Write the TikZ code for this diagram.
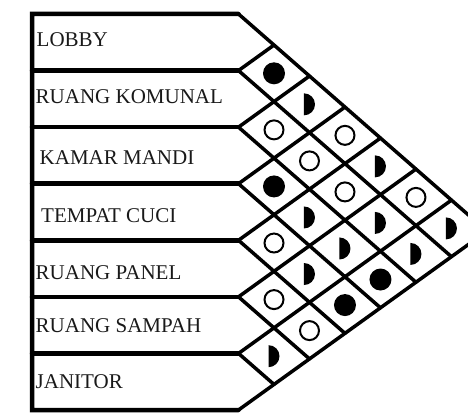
\documentclass[tikz,border=0pt]{standalone}
\usepackage{fontspec}
\setmainfont{Liberation Serif}
\begin{document}
\begin{tikzpicture}[x=1pt,y=-1pt,
  frame/.style={line width=4.5pt, line cap=round, line join=miter},
  gridline/.style={line width=3.5pt, line cap=round, line join=round},
  lbl/.style={anchor=base west, font=\fontsize{21}{24}\selectfont, inner sep=0pt, text=black!90},
  opn/.style={draw, line width=2pt, circle, minimum size=19pt, inner sep=0pt},
  ful/.style={fill, circle, minimum size=22pt, inner sep=0pt},
  hlf/.style={inner sep=0pt, minimum size=0pt}]
\useasboundingbox (0,0) rectangle (468,414);
\clip (0,0) rectangle (468,414);
% lattice points P(m,n) = D_m intersect U_n
\foreach \m in {0,...,7}{
  \foreach \n in {-1,...,6}{
    \pgfmathsetmacro\px{274+(\n-\m)*35.49}
    \pgfmathsetmacro\py{45.02+\m*56.571+(\n-\m)*31.02}
    \coordinate (P-\m-\n) at (\px,\py);
  }
}
% frame
\coordinate (TL) at (32,14);
\coordinate (BL) at (32,410);
\draw[frame] (P-0--1) -- (TL) -- (BL) -- (P-7-6);
\foreach \k [evaluate=\k as \km using int(\k-1)] in {1,...,6}{
  \pgfmathsetmacro\sy{14+\k*56.571}
  \coordinate (S-\k) at (32,\sy);
  \draw[frame] (S-\k) -- (P-\k-\km);
}
% lattice lines
\foreach \m [evaluate=\m as \mm using int(\m-1)] in {0,...,6}
  \draw[gridline] (P-\m-\mm) -- (P-\m-6);
\foreach \n [evaluate=\n as \np using int(\n+1)] in {0,...,6}
  \draw[gridline] (P-\np-\n) -- (P-0-\n);
% labels
\node[lbl] (l0) at (36.5,47) {LOBBY};
\node[lbl] (l1) at (35.5,103.5) {RUANG KOMUNAL};
\node[lbl] (l2) at (39.5,165) {KAMAR MANDI};
\node[lbl] (l3) at (41,222) {TEMPAT CUCI};
\node[lbl] (l4) at (35.5,279) {RUANG PANEL};
\node[lbl] (l5) at (35.5,332) {RUANG SAMPAH};
\node[lbl] (l6) at (35.5,388) {JANITOR};
% cell centres
\foreach \i/\j in {0/1,0/2,0/3,0/4,0/5,0/6,1/2,1/3,1/4,1/5,1/6,2/3,2/4,2/5,2/6,3/4,3/5,3/6,4/5,4/6,5/6}{
  \pgfmathsetmacro\cx{274+(\j-\i-1)*35.49}
  \pgfmathsetmacro\cy{45.02+(\i+0.5)*56.571+(\j-\i-1)*31.02}
  \coordinate (C-\i-\j) at (\cx,\cy);
}
% full circles
\foreach \c in {0-1,2-3,3-6,2-6}
  \node[ful] (f-\c) at (C-\c) {};
% open circles
\foreach \c in {1-2,3-4,4-5,1-3,4-6,0-3,1-4,0-5}
  \node[opn] (o-\c) at (C-\c) {};
% half discs
\foreach \c in {5-6,0-2,2-4,3-5,2-5,0-4,1-5,1-6,0-6}{
  \node[hlf] (h-\c) at (C-\c) {};
  \fill ([shift={(-5.5,-11)}]h-\c.center) arc[start angle=-90, end angle=90, radius=11] -- cycle;
}
\end{tikzpicture}
\end{document}
